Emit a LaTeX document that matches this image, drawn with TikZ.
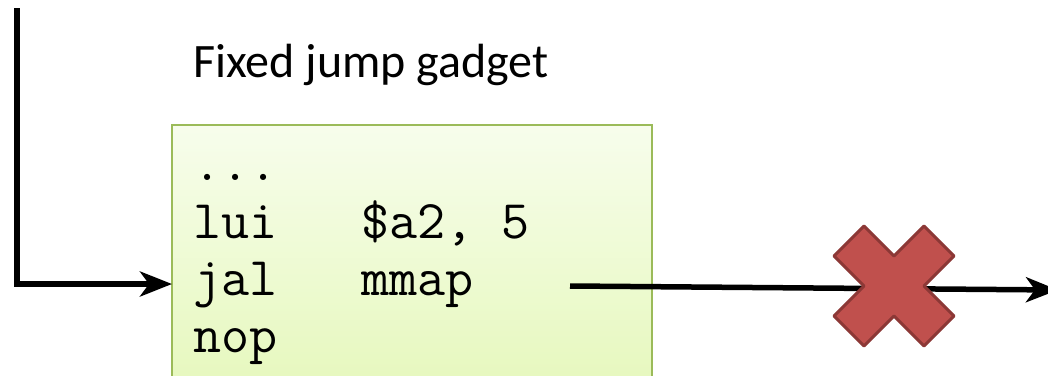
\documentclass[tikz,border=0pt]{standalone}
\usepackage{fontspec}
\setmainfont{Carlito}
\usetikzlibrary{arrows.meta}
\definecolor{boxedge}{HTML}{9BBB59}
\definecolor{boxtop}{HTML}{F7FDEC}
\definecolor{boxbot}{HTML}{E6F8BD}
\definecolor{crossfill}{HTML}{C0504D}
\definecolor{crossedge}{HTML}{8C3836}
\tikzset{
  flow/.style={line width=5.5pt, -{Stealth[length=32pt, width=25pt, inset=9pt]}},
  codeline/.style={anchor=base west, inner sep=0pt, font=\fontsize{54.5}{54.5}\selectfont\ttfamily},
}
\begin{document}
\begin{tikzpicture}[x=1pt, y=-1pt]
  \useasboundingbox (0,0) rectangle (1048,375);
  % code block (runs past the lower edge)
  \begin{scope}
    \clip (0,0) rectangle (1048,375);
    \shade[top color=boxtop, bottom color=boxbot, draw=boxedge, line width=2pt]
      (172,125) rectangle (652,390);
  \end{scope}
  \node (title) [anchor=base west, inner sep=0pt, font=\fontsize{48}{48}\selectfont] at (193,77) {Fixed jump gadget};
  \node (l0) [codeline] at (193,180) {...};
  \node (l1) [codeline] at (193,238) {lui\ \ \ \$a2, 5};
  \node (l2) [codeline] at (193,295) {jal\ \ \ mmap};
  \node (l3) [codeline] at (193,352) {nop};
  % incoming jump
  \coordinate (top) at (17,8);
  \coordinate (corner) at (17,284);
  \coordinate (entry) at (172,284);
  \draw[flow, line join=miter] (top) -- (corner) -- (entry);
  % outgoing call, blocked
  \coordinate (callstart) at (570,286);
  \coordinate (callend) at (1058,290);
  \draw[flow] (callstart) -- (callend);
  \draw[fill=crossfill, draw=crossedge, line width=3pt, line join=round]
    (864,226) -- (894,256) -- (924,226) -- (954,256) -- (924,286)
    -- (954,316) -- (924,346) -- (894,316) -- (864,346) -- (834,316)
    -- (864,286) -- (834,256) -- cycle;
\end{tikzpicture}
\end{document}
